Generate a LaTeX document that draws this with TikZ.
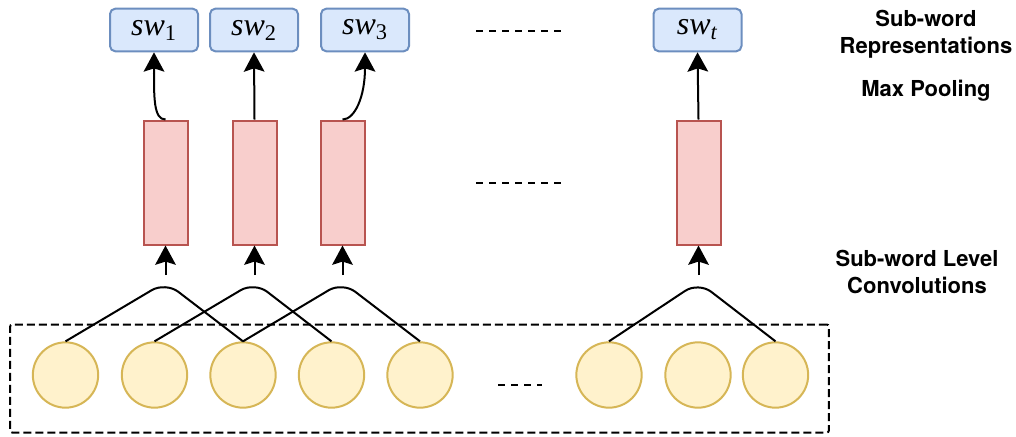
\documentclass[tikz,border=0pt]{standalone}
\usepackage{fontspec}
\newfontfamily\labelfont{TeX Gyre Heros}
\newfontfamily\subfont{Liberation Serif}
\usepackage{xcolor}
\usetikzlibrary{arrows.meta}
\definecolor{swfill}{HTML}{DAE8FC}
\definecolor{swdraw}{HTML}{6C8EBF}
\definecolor{poolfill}{HTML}{F8CECC}
\definecolor{pooldraw}{HTML}{B85450}
\definecolor{charfill}{HTML}{FFF2CC}
\definecolor{chardraw}{HTML}{D6B656}

\begin{document}
\begin{tikzpicture}[
  x=0.75pt, y=-0.75pt,
  line width=1.5pt,
  subword/.style={
    rectangle, draw=swdraw, fill=swfill, rounded corners=4pt,
    minimum width=66pt, minimum height=32pt, inner sep=0pt,
    font=\subfont\fontsize{24}{27}\selectfont
  },
  pool/.style={
    rectangle, draw=pooldraw, fill=poolfill,
    minimum width=33pt, minimum height=93pt, inner sep=0pt
  },
  char/.style={
    circle, draw=chardraw, fill=charfill,
    minimum size=49pt, inner sep=0pt
  },
  inbox/.style={
    rectangle, draw, dash pattern=on 6pt off 3pt, rounded corners=1.5pt,
    minimum width=614pt, minimum height=81pt, inner sep=0pt
  },
  caption/.style={
    align=center, inner sep=0pt,
    font=\labelfont\bfseries\fontsize{16.5}{20}\selectfont
  },
  tip/.tip={Stealth[length=14.5pt, width=15.5pt, inset=2.5pt]},
  arr/.style={-tip},
  conv/.style={rounded corners=12pt},
  gap/.style={dash pattern=on 5pt off 4.75pt}
]
\useasboundingbox (0,0) rectangle (1016,436);

\node[subword] (sw1) at (154,30)   {\textit{sw}\textsubscript{1}};
\node[subword] (sw2) at (254,30)   {\textit{sw}\textsubscript{2}};
\node[subword] (sw3) at (365,30)   {\textit{sw}\textsubscript{3}};
\node[subword] (swt) at (697.5,30) {\textit{sw}\textsubscript{\textit{t}}};

\node[pool] (mp1) at (165.5,182.5) {};
\node[pool] (mp2) at (254.5,182.5) {};
\node[pool] (mp3) at (342.5,182.5) {};
\node[pool] (mpt) at (698.5,182.5) {};

\node[inbox] (input) at (419.5,378.5) {};

\node[char] (c1) at (65.5,375)  {};
\node[char] (c2) at (154.5,375) {};
\node[char] (c3) at (243,375)   {};
\node[char] (c4) at (331.5,375) {};
\node[char] (c5) at (420,375)   {};
\node[char] (c6) at (609,375)   {};
\node[char] (c7) at (698,375)   {};
\node[char] (c8) at (775.5,375) {};

\coordinate (a1) at (165.5,282);
\coordinate (a2) at (254.5,282);
\coordinate (a3) at (342.5,282);
\coordinate (at) at (698.5,282);
\coordinate (k1) at (165.5,275);
\coordinate (k2) at (254.5,275);
\coordinate (k3) at (342.5,275);
\coordinate (kt) at (698.5,275);

\draw[conv] (c1.north) -- (a1) -- (c3.north);
\draw[conv] (c2.north) -- (a2) -- (c4.north);
\draw[conv] (c3.north) -- (a3) -- (c5.north);
\draw[conv] (c6.north) -- (at) -- (c8.north);

\draw[arr] (k1) -- (mp1.south);
\draw[arr] (k2) -- (mp2.south);
\draw[arr] (k3) -- (mp3.south);
\draw[arr] (kt) -- (mpt.south);

\draw[arr] (mp1.north) .. controls +(-12,0) and +(0,45) .. (sw1.south);
\draw[arr] (mp2.north) -- (sw2.south);
\draw[arr] (mp3.north) .. controls +(12,0) and +(0,45) .. (sw3.south);
\draw[arr] (mpt.north) -- (swt.south);

\coordinate (g1) at (476,31);  \coordinate (h1) at (562,31);
\coordinate (g2) at (476,183); \coordinate (h2) at (562,183);
\coordinate (g3) at (498,385); \coordinate (h3) at (542,385);
\draw[gap] (g1) -- (h1);
\draw[gap] (g2) -- (h2);
\draw[gap] (g3) -- (h3);

\node[caption] (rep)  at (926,34)  {Sub-word\\Representations};
\node[caption] (max)  at (926,91)  {Max Pooling};
\node[caption] (conv) at (917,272) {Sub-word Level\\Convolutions};
\end{tikzpicture}
\end{document}
